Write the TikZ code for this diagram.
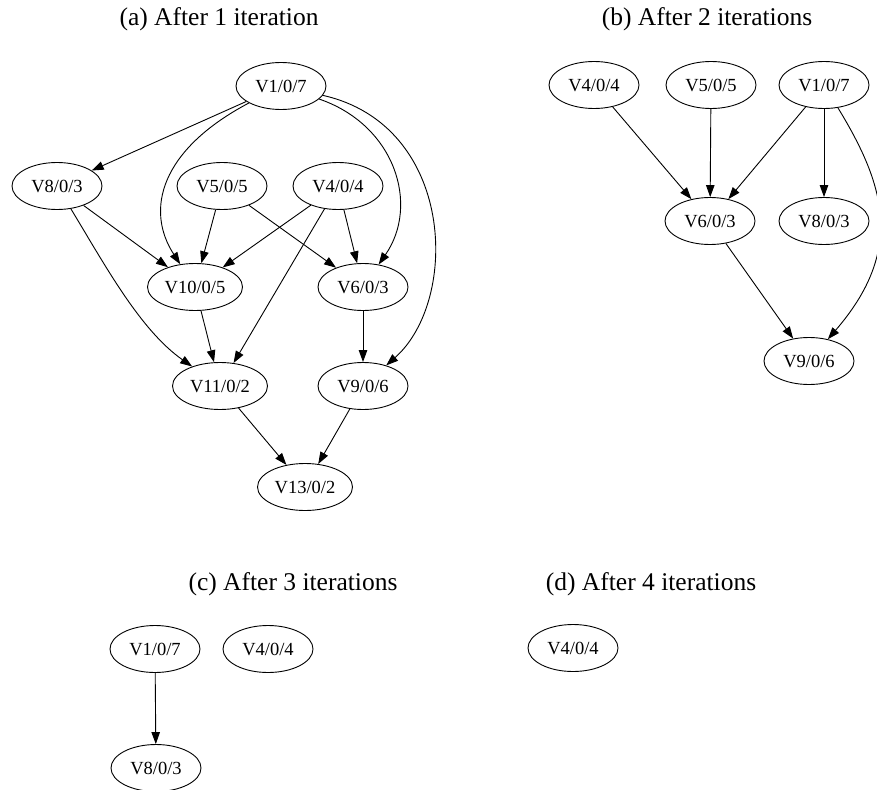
\documentclass[tikz,border=0pt]{standalone}
\usepackage{fontspec}
\setmainfont{Liberation Serif}
\usetikzlibrary{shapes.geometric,arrows.meta}
\newcommand\gvlabelfont{\fontsize{18.5}{20}\selectfont}
\newcommand\gvtitlefont{\fontsize{25.5}{28}\selectfont}
\tikzset{
  vtx/.style={ellipse, draw, line width=0.9pt, minimum height=47pt,
              minimum width=90pt, inner sep=0pt, font=\gvlabelfont},
  wide/.style={minimum width=95pt},
  edge/.style={-{Triangle[length=12pt,width=8.5pt]}, line width=0.9pt},
  caption/.style={anchor=base, inner sep=0pt, font=\gvtitlefont}
}
\begin{document}
\begin{tikzpicture}[x=1pt,y=-1pt]
\useasboundingbox (0,0) rectangle (877,789);
\clip (0,0) rectangle (877,789);

% ---------- (a) ----------
\node[caption] (ta) at (219,26) {(a) After 1 iteration};
\node[vtx] (a1)  at (281,86)  {V1/0/7};
\node[vtx] (a8)  at (57,186)  {V8/0/3};
\node[vtx] (a5)  at (222,186) {V5/0/5};
\node[vtx] (a4)  at (338,186) {V4/0/4};
\node[vtx,wide] (a10) at (195,287) {V10/0/5};
\node[vtx] (a6)  at (363,287) {V6/0/3};
\node[vtx,wide] (a11) at (220,386) {V11/0/2};
\node[vtx] (a9)  at (363,386) {V9/0/6};
\node[vtx,wide] (a13) at (305,487) {V13/0/2};

\draw[edge] (a1) -- (a8);
\draw[edge] (a1) .. controls (160,150) and (145,210) .. (a10);
\draw[edge] (a1) .. controls (395,125) and (420,205) .. (a6);
\draw[edge] (a1) .. controls (455,125) and (460,300) .. (a9);
\draw[edge] (a8) -- (a10);
\draw[edge] (a8) .. controls (105,265) and (140,330) .. (a11);
\draw[edge] (a5) -- (a10);
\draw[edge] (a5) -- (a6);
\draw[edge] (a4) -- (a10);
\draw[edge] (a4) -- (a11);
\draw[edge] (a4) -- (a6);
\draw[edge] (a10) -- (a11);
\draw[edge] (a6) -- (a9);
\draw[edge] (a11) -- (a13);
\draw[edge] (a9) -- (a13);

% ---------- (b) ----------
\node[caption] (tb) at (707,26) {(b) After 2 iterations};
\node[vtx] (b4) at (594,85)  {V4/0/4};
\node[vtx] (b5) at (711,85)  {V5/0/5};
\node[vtx] (b1) at (824,85)  {V1/0/7};
\node[vtx] (b6) at (710,221) {V6/0/3};
\node[vtx] (b8) at (824,221) {V8/0/3};
\node[vtx] (b9) at (809,361) {V9/0/6};

\draw[edge] (b4) -- (b6);
\draw[edge] (b5) -- (b6);
\draw[edge] (b1) -- (b6);
\draw[edge] (b1) -- (b8);
\draw[edge] (b6) -- (b9);
\draw[edge] (b1) .. controls (885,185) and (905,250) .. (b9);

% ---------- (c) ----------
\node[caption] (tc) at (293,590) {(c) After 3 iterations};
\node[vtx] (c1) at (155,649) {V1/0/7};
\node[vtx] (c4) at (268,649) {V4/0/4};
\node[vtx] (c8) at (156,768) {V8/0/3};
\draw[edge] (c1) -- (c8);

% ---------- (d) ----------
\node[caption] (td) at (651,590) {(d) After 4 iterations};
\node[vtx] (d4) at (573,648) {V4/0/4};
\end{tikzpicture}
\end{document}
